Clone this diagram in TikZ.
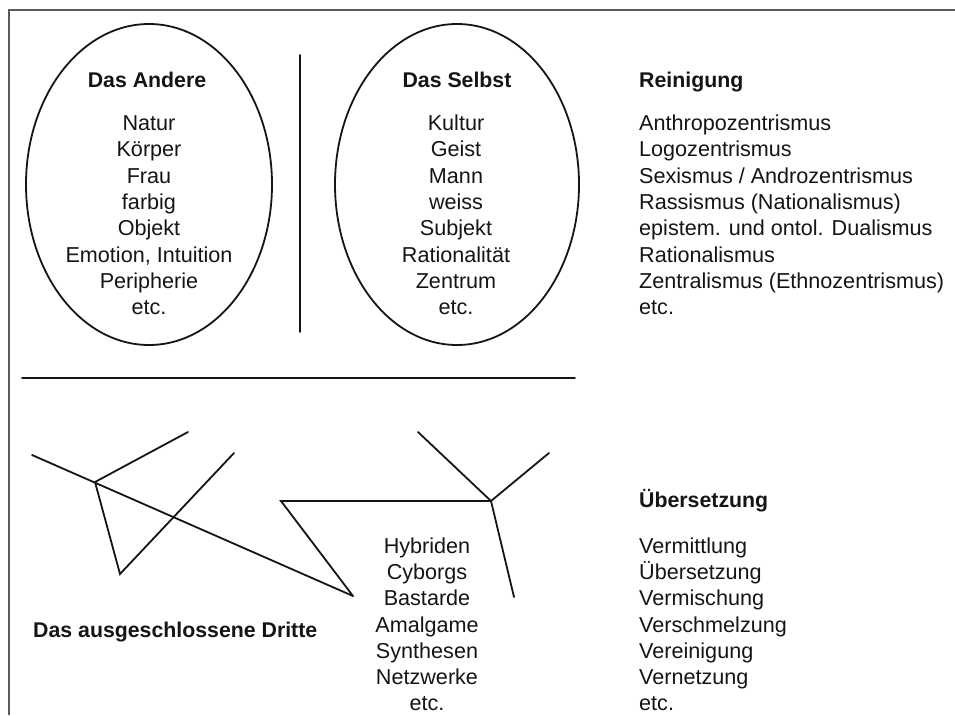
\documentclass[tikz,border=0pt]{standalone}
\usepackage{fontspec}
\setmainfont{Liberation Sans}
\usetikzlibrary{shapes.geometric}
\definecolor{ink}{HTML}{151515}
\definecolor{framegray}{HTML}{5A5A5A}
\begin{document}
\begin{tikzpicture}[x=1pt,y=-1pt,
  txt/.style={font=\fontsize{21.6}{26.3}\selectfont, text=ink, inner sep=0pt, anchor=base},
  hdr/.style={txt, font=\fontsize{21.3}{26.3}\selectfont\bfseries},
  ln/.style={draw=ink, line width=1.8pt, line cap=round},
  oval/.style={ellipse, draw=ink, line width=1.8pt, inner sep=0pt},
  framel/.style={draw=framegray, line width=1.4pt}
]
\useasboundingbox (0,0) rectangle (955,715);
\fill[white] (0,0) rectangle (955,715);

% frame
\coordinate (fb) at (9,715);
\coordinate (fc) at (9,10);
\coordinate (fr) at (955,10);
\draw[framel] (fb) -- (fc) -- (fr);

% ellipses
\node[oval, minimum width=246pt, minimum height=321pt] (andere) at (149,184.5) {};
\node[oval, minimum width=244pt, minimum height=321pt] (selbst) at (457,184.5) {};

% divider and separator
\coordinate (d1) at (300,55);
\coordinate (d2) at (300,332);
\draw[ln] (d1) -- (d2);
\coordinate (h1) at (22,378);
\coordinate (h2) at (575,378);
\draw[ln] (h1) -- (h2);

% headers
\node[hdr] (hA) at (147,87.6) {Das Andere};
\node[hdr] (hS) at (457,87.6) {Das Selbst};
\node[hdr, anchor=base west] (hR) at (639,87.6) {Reinigung};
\node[hdr, anchor=base west] (hU) at (639,507.6) {Übersetzung};
\node[hdr, anchor=base west] (hD) at (33,637.6) {Das ausgeschlossene Dritte};

% left ellipse list
\foreach \t [count=\i from 0] in {Natur,Körper,Frau,farbig,Objekt,{Emotion, Intuition},Peripherie,etc.}
  \node[txt] (a\i) at (149,130.6+26.3*\i) {\t};

% right ellipse list
\foreach \t [count=\i from 0] in {Kultur,Geist,Mann,weiss,Subjekt,Rationalität,Zentrum,etc.}
  \node[txt] (s\i) at (456,130.6+26.3*\i) {\t};

% Reinigung list
\foreach \t [count=\i from 0] in {Anthropozentrismus,Logozentrismus,Sexismus / Androzentrismus,Rassismus (Nationalismus),epistem. und ontol. Dualismus,Rationalismus,Zentralismus (Ethnozentrismus),etc.}
  \node[txt, anchor=base west] (r\i) at (639,130.6+26.3*\i) {\t};

% hybrid list
\foreach \t [count=\i from 0] in {Hybriden,Cyborgs,Bastarde,Amalgame,Synthesen,Netzwerke,etc.}
  \node[txt] (y\i) at (427,553.5+26.2*\i) {\t};

% Uebersetzung list
\foreach \t [count=\i from 0] in {Vermittlung,Übersetzung,Vermischung,Verschmelzung,Vereinigung,Vernetzung,etc.}
  \node[txt, anchor=base west] (u\i) at (639,553.5+26.2*\i) {\t};

% broken network lines
\coordinate (l1) at (32,455);
\coordinate (n1) at (95,482);
\coordinate (l2) at (188,432);
\coordinate (t1) at (120,574);
\coordinate (t2) at (234,453);
\coordinate (z1) at (353,596);
\coordinate (z2) at (281,501);
\coordinate (n2) at (491,501);
\coordinate (q1) at (418,432);
\coordinate (q2) at (549,453);
\coordinate (q3) at (514,597);

\draw[ln] (l1) -- (z1);
\draw[ln] (n1) -- (l2);
\draw[ln] (n1) -- (t1) -- (t2);
\draw[ln] (z1) -- (z2) -- (n2);
\draw[ln] (n2) -- (q1);
\draw[ln] (n2) -- (q2);
\draw[ln] (n2) -- (q3);
\end{tikzpicture}
\end{document}
